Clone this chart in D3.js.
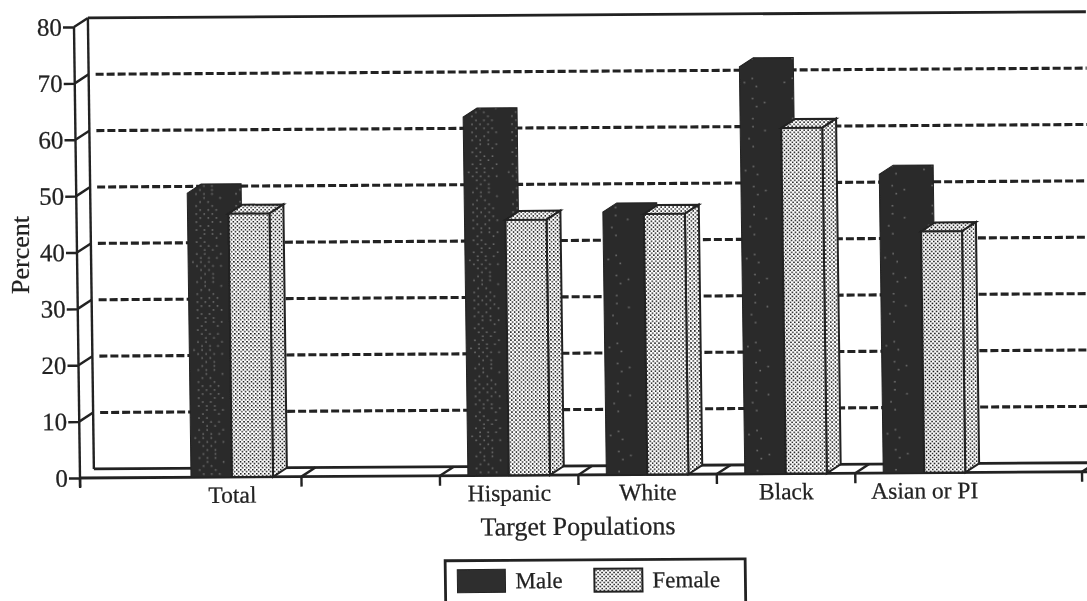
<!DOCTYPE html>
<html><head><meta charset="utf-8">
<script src="https://cdn.jsdelivr.net/npm/d3@7"></script>
<style>
html,body{margin:0;padding:0;background:#fff;overflow:hidden}
svg{display:block}
text{font-family:"Liberation Serif",serif;fill:#222;stroke:#222;stroke-width:0.25px}
</style></head><body>
<svg id="c" width="1087" height="601"></svg>
<script>
const categories = ["Total", " ", "Hispanic", "White", "Black", "Asian or PI"];
const seriesNames = ["Male", "Female"];
const maleValues = [50.4, null, 63.6, 46.6, 72.2, 53];
const femaleValues = [46.7, null, 45.3, 46.2, 61.3, 42.8];
const yTicks = [0, 10, 20, 30, 40, 50, 60, 70, 80];
const xTitle = "Target Populations";
const yTitle = "Percent";

const ink = "#222";
const plotW = 1002, plotH = 451, dx = 14, dy = 9;
const svg = d3.select("#c");
const defs = svg.append("defs");

defs.append("filter").attr("id", "scan").attr("x", 0).attr("y", 0).attr("width", 1).attr("height", 1)
  .append("feGaussianBlur").attr("stdDeviation", 0.38);

const dots = defs.append("pattern").attr("id", "femaleFill").attr("patternUnits", "userSpaceOnUse")
  .attr("width", 4).attr("height", 4);
dots.append("rect").attr("width", 4).attr("height", 4).attr("fill", "#fff");
[[0, 0], [2, 2]].forEach(p => dots.append("rect").attr("x", p[0]).attr("y", p[1])
  .attr("width", 1.5).attr("height", 1.5).attr("fill", "#111"));

// irregular speck texture of the dark bars, on the same 4px halftone grid
const speckRows = [
  "..#.#.#...", "...#.#.#..", "..#...#.#.", "...#.#....", "..#.#.#...", "....#.#.#.",
  "...#...#..", "..#.#.....", "...#.#.#..", "....#.#...", "..#.#...#.", "...#.#.#..",
  ".#.#.#....", "..#.#.#.#.", "...#.#....", "....#.#...", "...#..#...", "..#.#.#...",
  "....#...#.", "...#.#....", "..#...#...", "...#.#.#.."
];
function speckPattern(id, offset, keep, color) {
  const h = speckRows.length * 4;
  const p = defs.append("pattern").attr("id", id).attr("patternUnits", "userSpaceOnUse")
    .attr("width", 40).attr("height", h).attr("patternTransform", `translate(${offset},0)`);
  p.append("rect").attr("width", 40).attr("height", h).attr("fill", "#2a2a2a");
  speckRows.forEach((r, i) => r.split("").forEach((ch, j) => {
    if (ch === "#" && (i + j * 3) % keep === 0) p.append("rect").attr("x", j * 4).attr("y", i * 4)
      .attr("width", 1.6).attr("height", 1.6).attr("fill", color);
  }));
}

const root = svg.append("g").attr("filter", "url(#scan)");
root.append("rect").attr("width", 1087).attr("height", 601).attr("fill", "#fff");
const g = root.append("g").attr("transform", "matrix(1,-0.0062,0.0133,1,80,478)");

const y = d3.scaleLinear().domain([0, 80]).range([0, -plotH]);
const x = d3.scaleBand().domain(categories).range([83, 83 + 6 * 138.45]);
const x1 = d3.scaleBand().domain(seriesNames).range([28, 110]);

const line = (a, b, c, d, w = 2.4) => g.append("line").attr("x1", a).attr("y1", b).attr("x2", c).attr("y2", d)
  .attr("stroke", ink).attr("stroke-width", w);

// walls and floor
line(dx, -dy, dx, y(80) - dy);
line(dx, y(80) - dy, plotW + 10, y(80) - dy, 2.8);
line(0, y(80), dx, y(80) - dy);
line(dx, -dy, plotW + 10, -dy, 2.8);
line(0, 0, plotW + 10, 0, 2.8);

// x tick marks and floor dividers at the band edges
const edges = Array.from(new Set([0].concat(categories.slice(1).map(c => x(c)), [plotW])));
edges.forEach(e => {
  line(e, 0, e, 10);
  if (e > 0) line(e, 0, e + dx, -dy);
});

// dashed gridlines with their connectors
yTicks.filter(t => t > 0 && t < 80).forEach(t => {
  line(0, y(t), dx, y(t) - dy);
  g.append("line").attr("x1", dx + 7).attr("y1", y(t) - dy).attr("x2", plotW + 10).attr("y2", y(t) - dy)
    .attr("stroke", ink).attr("stroke-width", 3.1).attr("stroke-dasharray", "8 3");
});
line(0, 9, 0, y(80));

// y axis
const yAxis = d3.axisLeft(y).tickValues(yTicks).tickSize(11).tickPadding(1);
const ya = g.append("g").call(yAxis);
ya.select(".domain").remove();
ya.selectAll("line").attr("stroke", ink).attr("stroke-width", 2.4);
ya.selectAll("text").attr("font-size", 25).style("font-family", '"Liberation Serif",serif');

// x axis labels
const xAxis = d3.axisBottom(x).tickSize(0).tickPadding(9);
const xa = g.append("g").call(xAxis);
xa.select(".domain").remove();
xa.selectAll("text").attr("font-size", 23.5).style("font-family", '"Liberation Serif",serif');

g.append("text").attr("x", x("White") - 1).attr("y", 60).attr("text-anchor", "middle")
  .attr("font-size", 26).text(xTitle);
root.append("text").attr("transform", "translate(29,255) rotate(-90)").attr("text-anchor", "middle")
  .attr("font-size", 26).text(yTitle);

// bars
function malePath(u, w, h) {
  const p = d3.path();
  p.moveTo(u, 0); p.lineTo(u, h); p.lineTo(u + dx, h - dy); p.lineTo(u + w - 1 + dx, h - dy);
  p.lineTo(u + w - 1 + dx, -dy); p.lineTo(u + w, 0); p.closePath();
  return p.toString();
}
function poly(pts) { return d3.line()(pts) + "Z"; }

categories.forEach((c, i) => {
  if (maleValues[i] == null) return;
  const u = x(c) + x1("Male"), w = x1.bandwidth(), h = y(maleValues[i]);
  const pid = "male" + i;
  speckPattern(pid, u, i < 3 ? 1 : 5, i < 3 ? "#6e6e6e" : "#707070");
  g.append("path").attr("d", malePath(u, w, h))
    .attr("fill", `url(#${pid})`).attr("stroke", "#222").attr("stroke-width", 1);
  const fu = x(c) + x1("Female"), fh = y(femaleValues[i]);
  const faces = [
    [[fu, fh], [fu + dx, fh - dy], [fu + w + dx, fh - dy], [fu + w, fh]],
    [[fu + w, 0], [fu + w, fh], [fu + w + dx, fh - dy], [fu + w + dx, -dy]],
    [[fu, 0], [fu, fh], [fu + w, fh], [fu + w, 0]]
  ];
  faces.forEach(f => g.append("path").attr("d", poly(f)).attr("fill", "url(#femaleFill)")
    .attr("stroke", ink).attr("stroke-width", 2));
});

// legend
const lg = g.append("g").attr("transform", "translate(364,85)");
lg.append("rect").attr("width", 300).attr("height", 60).attr("fill", "#fff").attr("stroke", ink).attr("stroke-width", 2.8);
const swatchX = d3.scalePoint().domain(seriesNames).range([12, 149]);
seriesNames.forEach((n, i) => {
  lg.append("rect").attr("x", swatchX(n)).attr("y", 9).attr("width", 48).attr("height", 23)
    .attr("fill", i === 0 ? "#2f2f2f" : "url(#femaleFill)").attr("stroke", ink).attr("stroke-width", i === 0 ? 1 : 2);
  lg.append("text").attr("x", swatchX(n) + 58).attr("y", 28).attr("font-size", 23).text(n);
});
</script>
</body></html>
